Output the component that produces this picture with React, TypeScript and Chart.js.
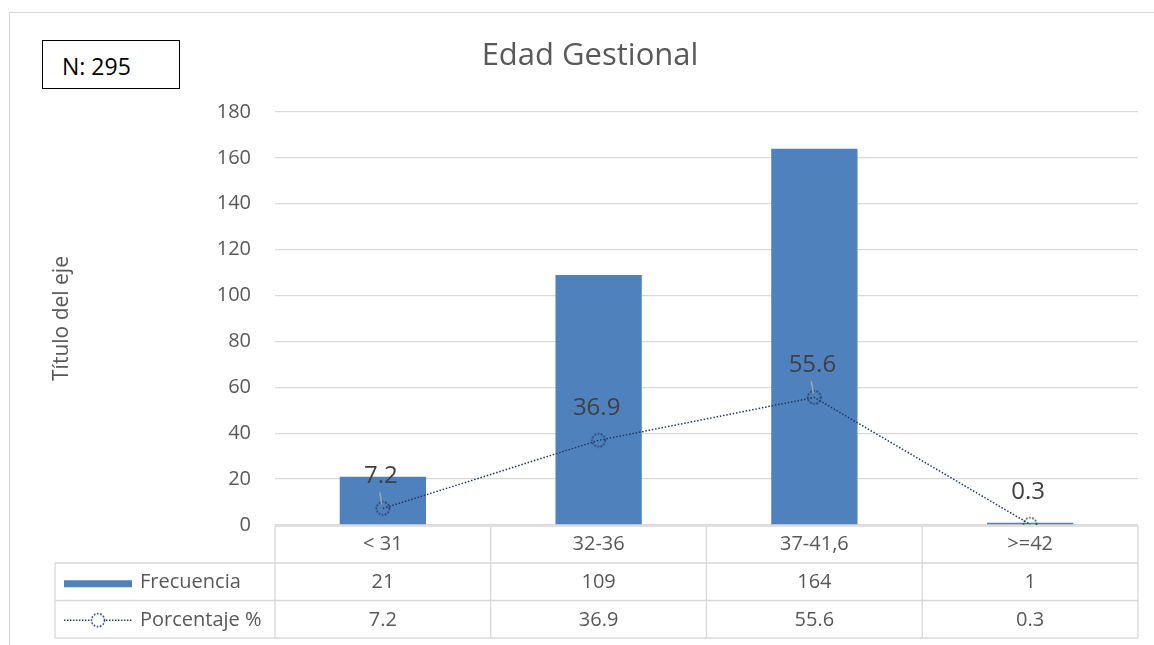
import React, { useEffect, useRef } from "react";
import { Chart, registerables } from "chart.js";

Chart.register(...registerables);

const categories = ["< 31", "32-36", "37-41,6", ">=42"];
const frecuencia = [21, 109, 164, 1];
const porcentaje = [7.2, 36.9, 55.6, 0.3];
const porcentajeLabels = ["7.2", "36.9", "55.6", "0.3"];
const leaderLines = [true, false, true, false];
const yTicks = { min: 0, max: 180, step: 20 };

const FONT = "'Open Sans', 'Noto Sans', sans-serif";
const GRID = "#d9d9d9";
const TEXT = "#595959";
const BAR = "#4f81bd";
const LINE = "#203864";

function makeDottedCircle(): HTMLCanvasElement {
  const c = document.createElement("canvas");
  c.width = 18;
  c.height = 18;
  const ctx = c.getContext("2d")!;
  ctx.strokeStyle = LINE;
  ctx.lineWidth = 1.6;
  ctx.setLineDash([1.6, 1.6]);
  ctx.beginPath();
  ctx.arc(9, 9, 6.5, 0, Math.PI * 2);
  ctx.stroke();
  return c;
}

export default function App() {
  const ref = useRef<HTMLCanvasElement | null>(null);

  useEffect(() => {
    if (!ref.current) return;
    const marker = makeDottedCircle();

    const tablePlugin = {
      id: "dataTable",
      afterDraw(chart: any) {
        const ctx = chart.ctx as CanvasRenderingContext2D;
        const area = chart.chartArea;
        const x = chart.scales.x;
        const n = categories.length;
        const cw = (area.right - area.left) / n;
        const r0 = area.bottom + 1;
        const r1 = r0 + 37;
        const r2 = r1 + 37.5;
        const r3 = r2 + 37.5;
        const legendLeft = 55;
        ctx.save();
        ctx.strokeStyle = GRID;
        ctx.lineWidth = 1.3;
        ctx.beginPath();
        ctx.moveTo(area.left, r0);
        ctx.lineTo(area.right, r0);
        [r1, r2, r3].forEach((yy) => {
          ctx.moveTo(legendLeft, yy);
          ctx.lineTo(area.right, yy);
        });
        for (let i = 0; i <= n; i++) {
          const xx = area.left + i * cw;
          ctx.moveTo(xx, r0);
          ctx.lineTo(xx, r3);
        }
        ctx.moveTo(legendLeft, r1);
        ctx.lineTo(legendLeft, r3);
        ctx.stroke();

        ctx.fillStyle = TEXT;
        ctx.font = `20px ${FONT}`;
        ctx.textAlign = "center";
        ctx.textBaseline = "middle";
        categories.forEach((c, i) => {
          const cx = x.getPixelForValue(i);
          ctx.fillText(c, cx, (r0 + r1) / 2);
          ctx.fillText(String(frecuencia[i]), cx, (r1 + r2) / 2 + 1);
          ctx.fillText(porcentajeLabels[i], cx, (r2 + r3) / 2 + 1);
        });

        const kx0 = 64;
        const kx1 = 132;
        const ym1 = (r1 + r2) / 2 + 2;
        const ym2 = (r2 + r3) / 2 + 1;
        ctx.fillStyle = BAR;
        ctx.fillRect(kx0, ym1 - 3.5, kx1 - kx0, 7);
        ctx.strokeStyle = LINE;
        ctx.lineWidth = 1.3;
        ctx.setLineDash([1.4, 1.6]);
        ctx.beginPath();
        ctx.moveTo(kx0, ym2);
        ctx.lineTo(kx1, ym2);
        ctx.stroke();
        ctx.setLineDash([]);
        ctx.fillStyle = "#ffffff";
        ctx.beginPath();
        ctx.arc((kx0 + kx1) / 2, ym2, 7, 0, Math.PI * 2);
        ctx.fill();
        ctx.drawImage(marker, (kx0 + kx1) / 2 - 9, ym2 - 9);

        ctx.fillStyle = TEXT;
        ctx.textAlign = "left";
        ctx.font = `20px ${FONT}`;
        ctx.fillText(chart.data.datasets[0].label, 140, (r1 + r2) / 2 + 1);
        ctx.fillText(chart.data.datasets[1].label, 140, (r2 + r3) / 2 + 1);
        ctx.restore();
      },
    };

    const labelPlugin = {
      id: "pointLabels",
      afterDatasetsDraw(chart: any) {
        const ctx = chart.ctx as CanvasRenderingContext2D;
        const meta = chart.getDatasetMeta(1);
        ctx.save();
        meta.data.forEach((pt: any, i: number) => {
          const ly = pt.y - 32;
          if (leaderLines[i]) {
            ctx.strokeStyle = "#a6a6a6";
            ctx.lineWidth = 1.5;
            ctx.beginPath();
            ctx.moveTo(pt.x - 3, ly + 16);
            ctx.lineTo(pt.x - 1, pt.y - 4);
            ctx.stroke();
          }
          ctx.fillStyle = "#404040";
          ctx.font = `24px ${FONT}`;
          ctx.textAlign = "center";
          ctx.textBaseline = "middle";
          ctx.fillText(porcentajeLabels[i], pt.x - 2, ly);
        });
        ctx.restore();
      },
    };

    const titlePlugin = {
      id: "mainTitle",
      afterDraw(chart: any) {
        const ctx = chart.ctx as CanvasRenderingContext2D;
        ctx.save();
        ctx.fillStyle = TEXT;
        ctx.font = `31px ${FONT}`;
        ctx.textAlign = "center";
        ctx.textBaseline = "middle";
        ctx.fillText("Edad Gestional", 590, 56);
        ctx.restore();
      },
    };

    const chart = new Chart(ref.current, {
      type: "bar",
      data: {
        labels: categories,
        datasets: [
          {
            type: "bar",
            label: "Frecuencia",
            data: frecuencia,
            backgroundColor: BAR,
            barPercentage: 0.4,
            categoryPercentage: 1,
            order: 2,
          },
          {
            type: "line",
            label: "Porcentaje %",
            data: porcentaje,
            borderColor: LINE,
            borderWidth: 1.5,
            borderDash: [1.5, 1.8],
            pointStyle: marker as any,
            pointRadius: 7,
            fill: false,
            tension: 0,
            order: 1,
          },
        ],
      },
      options: {
        animation: false,
        responsive: false,
        layout: { padding: { left: 40, top: 112, right: 16, bottom: 120 } },
        plugins: {
          legend: { display: false },
          tooltip: { enabled: false },
          title: { display: false },
        },
        scales: {
          x: { display: false },
          y: {
            min: yTicks.min,
            max: yTicks.max,
            border: { display: false },
            grid: { color: GRID, lineWidth: 1.3, drawTicks: false },
            ticks: {
              stepSize: yTicks.step,
              padding: 24,
              color: TEXT,
              font: { family: FONT, size: 20 },
            },
            title: {
              display: true,
              text: "Título del eje",
              color: TEXT,
              font: { family: FONT, size: 21 },
              padding: { top: 9, bottom: 0 },
            },
            afterFit(scale: any) {
              scale.width = 235;
            },
          },
        },
      },
      plugins: [tablePlugin, labelPlugin, titlePlugin],
    });
    return () => chart.destroy();
  }, []);

  return (
    <div
      style={{
        position: "absolute",
        left: 0,
        top: 0,
        width: 1154,
        height: 645,
        overflow: "hidden",
        background: "#ffffff",
      }}
    >
      <div
        style={{
          position: "absolute",
          left: 9,
          top: 12,
          width: 1200,
          height: 700,
          border: `1.5px solid ${GRID}`,
          boxSizing: "border-box",
        }}
      />
      <canvas
        ref={ref}
        width={1154}
        height={645}
        style={{ position: "absolute", left: 0, top: 0 }}
      />
      <div
        style={{
          position: "absolute",
          left: 42,
          top: 40,
          width: 138,
          height: 49,
          border: "1.5px solid #000000",
          boxSizing: "border-box",
          background: "#ffffff",
          fontFamily: FONT,
          fontSize: 23,
          color: "#000000",
          lineHeight: "50px",
          paddingLeft: 19,
        }}
      >
        N: 295
      </div>
    </div>
  );
}
